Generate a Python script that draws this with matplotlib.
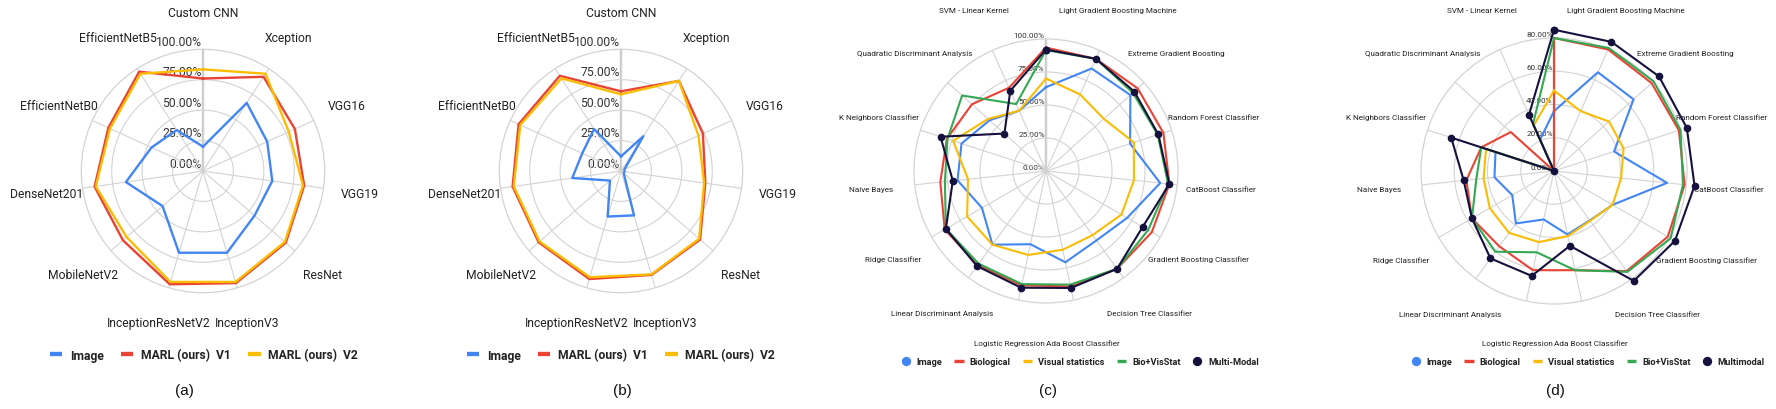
import numpy as np
import matplotlib
matplotlib.use('Agg')

import matplotlib.pyplot as plt
from matplotlib.lines import Line2D

plt.rcParams['font.family'] = ['Roboto', 'DejaVu Sans']

W, H = 1776, 410

BLUE = '#4285F4'
RED = '#EA4335'
YELLOW = '#FBBC04'
GREEN = '#34A853'
NAVY = '#15113f'

# panels (a) and (b): deep models
cnn_models = ['Custom CNN', 'Xception', 'VGG16', 'VGG19', 'ResNet', 'InceptionV3',
              'InceptionResNetV2', 'MobileNetV2', 'DenseNet201', 'EfficientNetB0',
              'EfficientNetB5']
a_image = [20, 66.5, 58, 57.5, 56, 70, 70, 44, 64, 46.5, 40]
a_marl_v1 = [76, 92, 83, 84, 90, 96, 97, 87, 90, 85.5, 97]
a_marl_v2 = [83.5, 95, 77.5, 83, 89, 95, 95, 83, 89, 84, 95]

b_image = [12, 34, 3, 3, 3, 38, 39, 12, 40.5, 35, 41]
b_marl_v1 = [65.5, 88, 74, 70, 86, 89, 92.5, 89.5, 90, 92.5, 93]
b_marl_v2 = [63, 88, 70, 69, 85, 88.5, 91, 88.5, 89, 91, 90.5]

# panels (c) and (d): classic classifiers (label at the top spoke is hidden in the source)
clf_models = ['', 'Light Gradient Boosting Machine', 'Extreme Gradient Boosting',
              'Random Forest Classifier', 'CatBoost Classifier', 'Gradient Boosting Classifier',
              'Decision Tree Classifier', 'Ada Boost Classifier', 'Logistic Regression',
              'Linear Discriminant Analysis', 'Ridge Classifier', 'Naive Bayes',
              'K Neighbors Classifier', 'Quadratic Discriminant Analysis', 'SVM - Linear Kernel']
c_image = [63.5, 85, 86, 67, 87, 71, 65, 70.7, 56.7, 69, 56, 67.4, 67.3, 57.5, 50]
c_bio = [93.5, 93, 93.5, 93.5, 94, 92.6, 91.6, 89.4, 88.6, 88, 88.6, 80.5, 79, 75.5, 69]
c_visstat = [70, 63.5, 59, 70, 67, 66, 60, 61, 65, 69, 69, 59.4, 74, 59, 50]
c_biovis = [91.6, 93, 88.6, 89, 93, 89.4, 91.6, 88, 87.6, 86.8, 87.6, 77, 78.5, 85.5, 55.5]
c_multi = [92, 93, 90, 89.5, 94, 84.6, 91.6, 90.6, 90.4, 89, 87.6, 71, 84, 42.4, 66.5]

d_image = [36, 65, 64.4, 38, 68.4, 40.7, 36.7, 39, 29.8, 39, 29, 36, 37, 0, 20.6]
d_bio = [80, 80, 79, 79, 79, 79, 74.4, 61, 61, 56, 57, 53, 46, 35, 0]
d_visstat = [48.4, 39.4, 44.5, 44, 40.6, 40.7, 37, 40, 43.7, 46, 44.6, 42.6, 43, 0, 30]
d_biovis = [80, 81, 80.6, 80, 78, 81, 75, 61, 50, 60, 57, 47, 46, 0, 31]
d_multi = [85, 85, 85, 84, 85, 84, 81.7, 46, 64.5, 65, 57, 54.6, 65, 0, 37]


fig = plt.figure(figsize=(W / 100, H / 100), dpi=100)


def radar(cx, cy, R, cats, series, rmax, step, label_r, fs, lw):
    ax = fig.add_axes([(cx - R) / W, (H - cy - R) / H, 2 * R / W, 2 * R / H],
                      projection='polar')
    ax.set_theta_zero_location('N')
    ax.set_theta_direction(-1)
    n = len(cats)
    ang = np.arange(n) * 2 * np.pi / n
    ax.set_xticks(ang)
    ax.set_xticklabels([])
    ax.set_ylim(0, rmax)
    ax.set_yticks(np.arange(step, rmax, step))
    ax.set_yticklabels([])
    ax.grid(color='#d3d3d3', lw=0.8)
    ax.spines['polar'].set_color('#d3d3d3')
    ax.spines['polar'].set_linewidth(0.9)
    ax.plot([0, 0], [0, rmax], color='#c8c8c8', lw=1.7, zorder=1)
    for v in np.arange(0, rmax + 0.1, step):
        ax.annotate(f'{v:.2f}%', xy=(0, v), xytext=(-1, 1), textcoords='offset points',
                    ha='right', va='bottom', fontsize=fs, color='#333333', zorder=1.5)
    for i, c in enumerate(cats):
        ax.text(ang[i], label_r, c, ha='center', va='center', fontsize=fs, color='#222222')
    for vals, col, mk in series:
        a = list(ang) + [ang[0]]
        v = list(vals) + [vals[0]]
        ax.plot(a, v, color=col, lw=lw, marker=mk, ms=4.5, clip_on=False, zorder=3)
    return ax


def legend(cx, cy, items, fs, gap):
    handles = []
    for name, col, mk in items:
        if mk:
            handles.append(Line2D([], [], color=col, marker='o', ls='none', ms=fs * 0.85))
        else:
            handles.append(Line2D([], [], color=col, lw=fs * 0.36, solid_capstyle='butt'))
    fig.legend(handles, [i[0] for i in items], loc='center',
               bbox_to_anchor=(cx / W, 1 - cy / H), ncol=len(items), frameon=False,
               prop={'weight': 'bold', 'size': fs}, handlelength=1.0, handletextpad=0.65,
               columnspacing=gap, borderpad=0, labelcolor='#222222')


radar(203, 172, 121.7, cnn_models,
      [(a_image, BLUE, None), (a_marl_v1, RED, None), (a_marl_v2, YELLOW, None)],
      100, 25, 130, 8.7, 1.7)
radar(621, 172, 121.7, cnn_models,
      [(b_image, BLUE, None), (b_marl_v1, RED, None), (b_marl_v2, YELLOW, None)],
      100, 25, 130, 8.7, 1.7)
radar(1046, 172, 132, clf_models,
      [(c_image, BLUE, None), (c_bio, RED, None), (c_visstat, YELLOW, None),
       (c_biovis, GREEN, None), (c_multi, NAVY, 'o')],
      100, 25, 133.3, 5.9, 1.5)
radar(1554, 172, 133, clf_models,
      [(d_image, BLUE, None), (d_bio, RED, None), (d_visstat, YELLOW, None),
       (d_biovis, GREEN, None), (d_multi, NAVY, 'o')],
      80, 20, 106, 5.9, 1.5)

marl = [('Image', BLUE, False), ('MARL (ours)  V1', RED, False), ('MARL (ours)  V2', YELLOW, False)]
legend(204, 356, marl, 8.7, 1.45)
legend(621, 356, marl, 8.7, 1.45)
legend(1080, 363, [('Image', BLUE, True), ('Biological', RED, False),
                   ('Visual statistics', YELLOW, False), ('Bio+VisStat', GREEN, False),
                   ('Multi-Modal', NAVY, True)], 6.7, 1.3)
legend(1588, 363, [('Image', BLUE, True), ('Biological', RED, False),
                   ('Visual statistics', YELLOW, False), ('Bio+VisStat', GREEN, False),
                   ('Multimodal', NAVY, True)], 6.7, 1.3)

for x, t in [(184, '(a)'), (622, '(b)'), (1048, '(c)'), (1555, '(d)')]:
    fig.text(x / W, 1 - 391 / H, t, ha='center', va='center', fontsize=11,
             family='Liberation Sans', color='#111111')

fig.savefig('out.png', dpi=100)
